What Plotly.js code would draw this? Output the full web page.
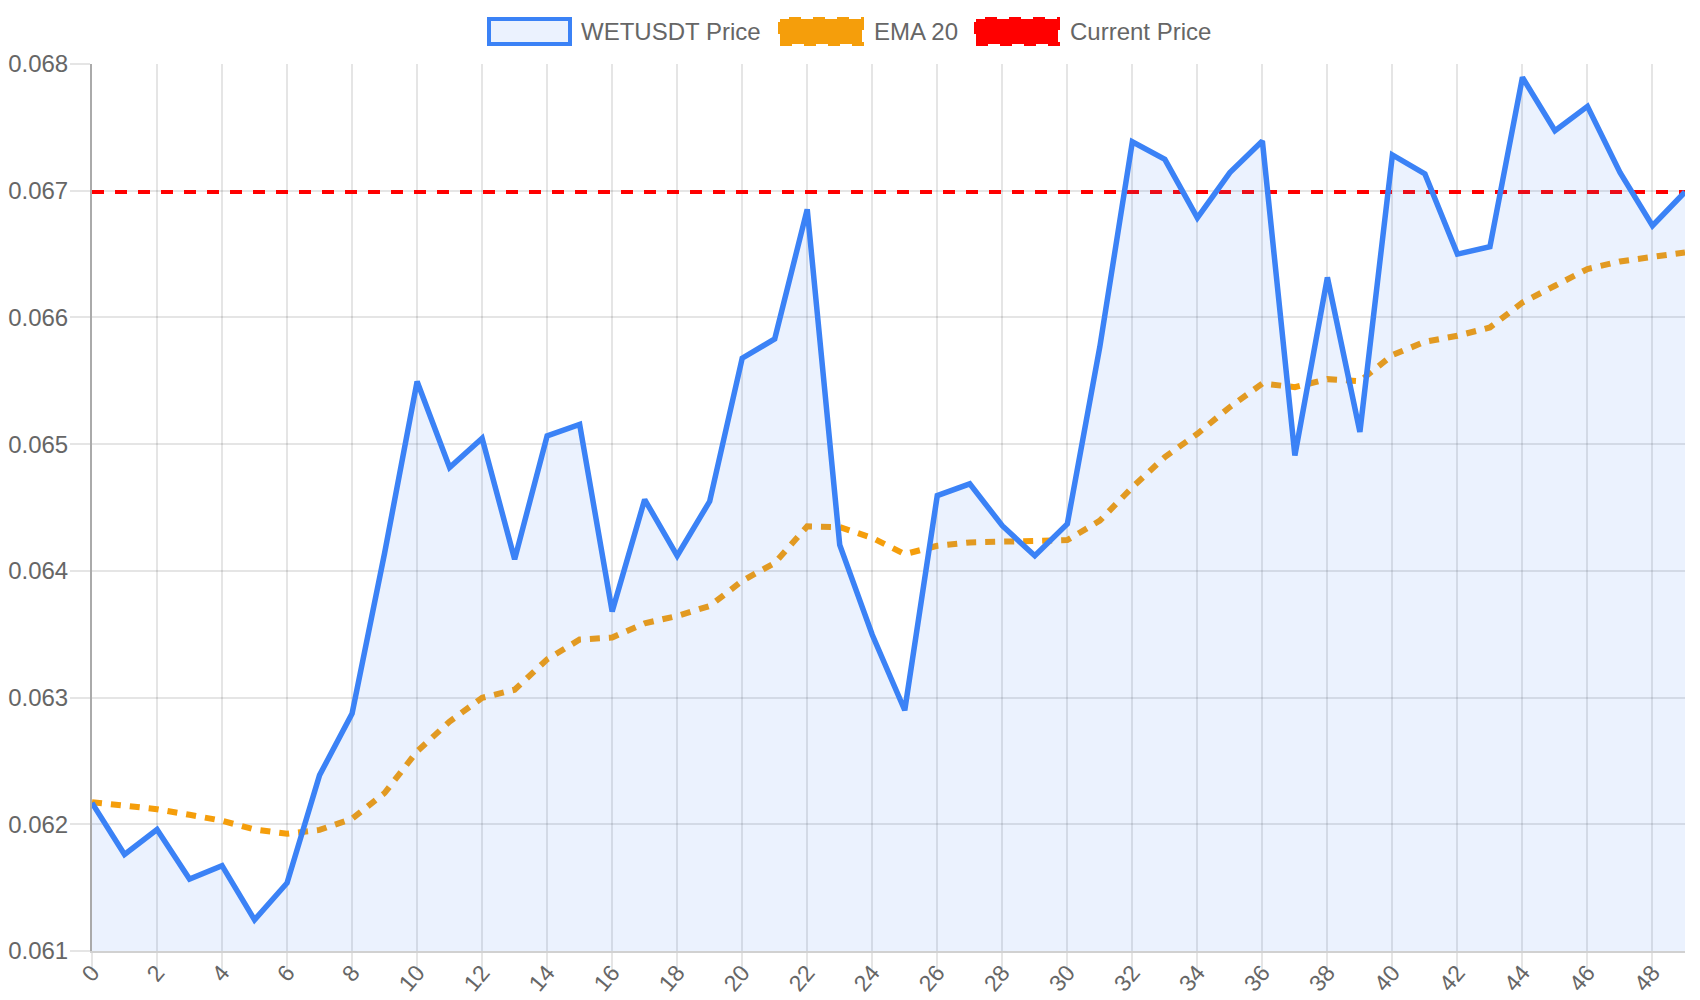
<!DOCTYPE html>
<html>
<head>
<meta charset="utf-8">
<script src="https://cdn.plot.ly/plotly-3.0.1.min.js"></script>
<style>
  html, body { margin: 0; padding: 0; background: #ffffff; }
  #chart { width: 1700px; height: 1000px; }
</style>
</head>
<body>
<div id="chart"></div>
<script>
// ---- data ----
const labels = [0,1,2,3,4,5,6,7,8,9,10,11,12,13,14,15,16,17,18,19,20,21,22,23,24,25,26,27,28,29,30,31,32,33,34,35,36,37,38,39,40,41,42,43,44,45,46,47,48,49];

const priceValues = [
  0.062169, 0.061762, 0.061959, 0.061568, 0.061674, 0.061246, 0.061537, 0.062388, 0.062873, 0.064140,
  0.065495, 0.064815, 0.065047, 0.064091, 0.065065, 0.065156, 0.063680, 0.064563, 0.064119, 0.064549,
  0.065678, 0.065830, 0.066853, 0.064204, 0.063496, 0.062900, 0.064594, 0.064687, 0.064356, 0.064119,
  0.064370, 0.065768, 0.067386, 0.067248, 0.066786, 0.067143, 0.067393, 0.064910, 0.066316, 0.065097,
  0.067282, 0.067132, 0.066500, 0.066558, 0.067895, 0.067474, 0.067666, 0.067145, 0.066724, 0.066990
];

const ema20Values = [
  0.062175, 0.062144, 0.062119, 0.062075, 0.062028, 0.061959, 0.061925, 0.061956, 0.062044, 0.062247,
  0.062576, 0.062811, 0.062998, 0.063062, 0.063302, 0.063458, 0.063474, 0.063586, 0.063644, 0.063723,
  0.063921, 0.064062, 0.064351, 0.064345, 0.064260, 0.064132, 0.064198, 0.064224, 0.064232, 0.064230,
  0.064243, 0.064396, 0.064660, 0.064898, 0.065082, 0.065293, 0.065478, 0.065450, 0.065513, 0.065497,
  0.065703, 0.065808, 0.065855, 0.065921, 0.066118, 0.066250, 0.066382, 0.066442, 0.066474, 0.066513
];

const currentPrice = 0.06699;

const seriesNames = ["WETUSDT Price", "EMA 20", "Current Price"];
const yTickFormat = ".3f";

// ---- styling ----
const FONT = "Liberation Sans, Arial, Helvetica, sans-serif";
const BLUE = "#3b82f6";
const BLUE_FILL = "rgba(59,130,246,0.1)";
const ORANGE = "#f59e0b";
const RED = "#ff0000";
const GRID = "rgba(0,0,0,0.1)";
const TEXT = "#666666";

const W = 1700, H = 1000;
const M = { l: 92, r: 15, t: 64, b: 49 };
const xp = px => (px - M.l) / (W - M.l - M.r);
const yp = py => (H - M.b - py) / (H - M.t - M.b);

const traces = [
  {
    x: labels,
    y: labels.map(() => currentPrice),
    type: "scatter",
    mode: "lines",
    name: seriesNames[2],
    line: { color: RED, width: 4, dash: "12px,11px" },
    hoverinfo: "skip"
  },
  {
    x: labels,
    y: ema20Values,
    type: "scatter",
    mode: "lines",
    name: seriesNames[1],
    line: { color: ORANGE, width: 6, dash: "10px,9px" }
  },
  {
    x: labels,
    y: priceValues,
    type: "scatter",
    mode: "lines",
    name: seriesNames[0],
    fill: "tozeroy",
    fillcolor: BLUE_FILL,
    line: { color: BLUE, width: 5.5 }
  }
];

const legendBoxes = [
  { x0: 489, x1: 570, fill: BLUE_FILL, line: BLUE, dash: "solid", tx: 579, text: seriesNames[0] },
  { x0: 780, x1: 862, fill: ORANGE, line: ORANGE, dash: "dash", tx: 872, text: seriesNames[1] },
  { x0: 976, x1: 1058, fill: RED, line: RED, dash: "dash", tx: 1068, text: seriesNames[2] }
];

const shapes = legendBoxes.map(b => ({
  type: "rect", xref: "paper", yref: "paper",
  x0: xp(b.x0), x1: xp(b.x1), y0: yp(44), y1: yp(19),
  fillcolor: b.fill,
  line: { color: b.line, width: 4, dash: b.dash }
}));

const annotations = legendBoxes.map(b => ({
  xref: "paper", yref: "paper",
  x: xp(b.tx), y: yp(31.5),
  xanchor: "left", yanchor: "middle",
  text: b.text, showarrow: false,
  font: { family: FONT, size: 24, color: TEXT }
}));

const layout = {
  width: W, height: H,
  margin: M,
  paper_bgcolor: "#ffffff",
  plot_bgcolor: "#ffffff",
  showlegend: false,
  font: { family: FONT, size: 24, color: TEXT },
  xaxis: {
    range: [0, 49],
    tick0: 0, dtick: 2,
    tickangle: -50,
    showgrid: true, gridcolor: GRID, gridwidth: 2,
    zeroline: false,
    showline: true, linecolor: "rgba(0,0,0,0.18)", linewidth: 2,
    ticks: "outside", ticklen: 20, tickwidth: 2, tickcolor: GRID,
    ticklabelstandoff: -23,
    tickfont: { family: FONT, size: 23, color: TEXT },
    automargin: false,
    fixedrange: true
  },
  yaxis: {
    range: [0.061, 0.068],
    tick0: 0.061, dtick: 0.001,
    tickformat: yTickFormat,
    showgrid: true, gridcolor: GRID, gridwidth: 2,
    zeroline: false,
    showline: true, linecolor: "#aaaaaa", linewidth: 2,
    ticks: "outside", ticklen: 20, tickwidth: 2, tickcolor: GRID,
    ticklabelstandoff: -3,
    tickfont: { family: FONT, size: 24, color: TEXT },
    automargin: false,
    fixedrange: true
  },
  shapes: shapes,
  annotations: annotations
};

Plotly.newPlot("chart", traces, layout, { displayModeBar: false, staticPlot: true });
</script>
</body>
</html>
